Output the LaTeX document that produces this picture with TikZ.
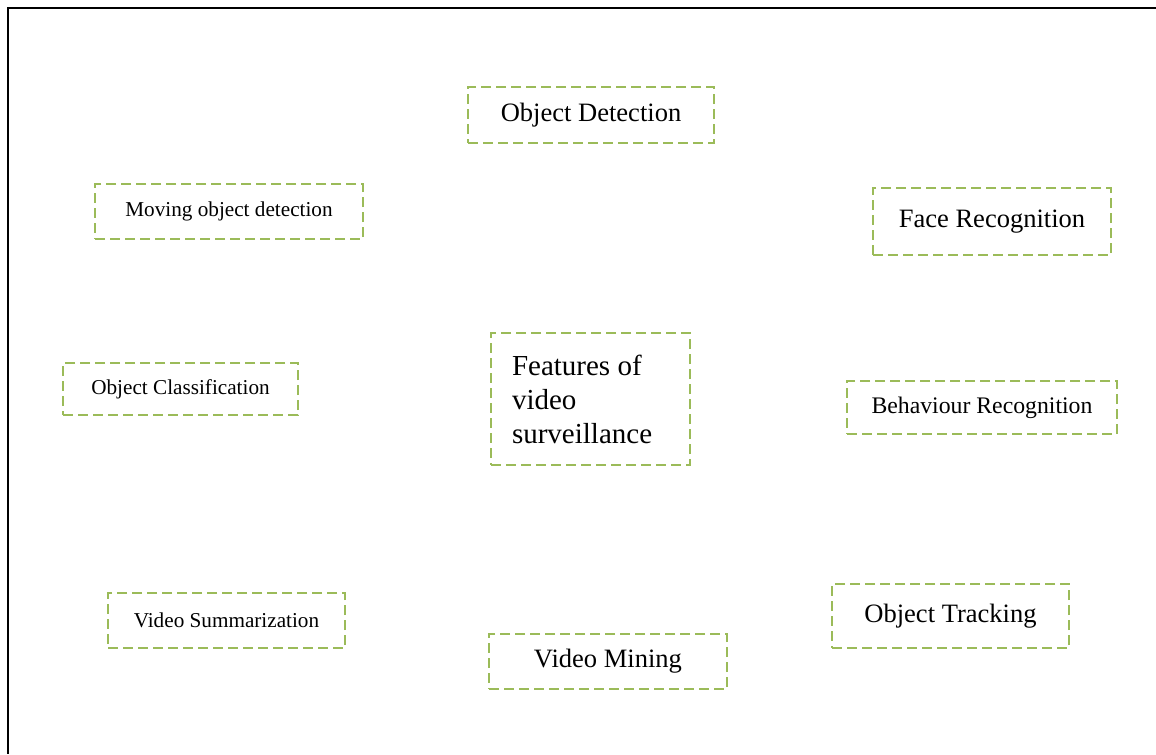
\documentclass[tikz,border=0pt]{standalone}
\usepackage{fontspec}
\setmainfont{Liberation Serif}
\definecolor{BoxGreen}{RGB}{155,187,89}
\begin{document}
\begin{tikzpicture}[x=0.75pt,y=-0.75pt,
    featbox/.style={draw=BoxGreen,line width=1.7pt,dash pattern=on 7.5pt off 3.75pt,
                    inner sep=0pt,align=center},
    boxsize/.style 2 args={minimum width=#1*0.75pt,minimum height=#2*0.75pt}]
  \useasboundingbox (0,0) rectangle (1156,754);
  % page frame
  \draw[line width=1.5pt] (1156,8) -- (8,8) -- (8,754);
  % feature boxes round the centre
  \foreach \n/\x/\y/\w/\h/\fs/\t in {
      detect/591/115/246/56/19.9/{Object Detection},
      moving/229/211.5/268/55/15.9/{Moving object detection},
      face/992/221.5/238/67/19.9/{Face Recognition},
      classif/180.5/389/235/52/15.9/{Object Classification},
      behav/982/407.5/270/53/17.8/{Behaviour Recognition},
      summ/226.5/620.5/237/55/15.9/{Video Summarization},
      track/950.5/616/237/64/19.9/{Object Tracking},
      mining/608/661.5/238/55/19.9/{Video Mining}}{
    \node[featbox,boxsize={\w}{\h},font=\fontsize{\fs}{\fs}\selectfont]
      (\n) at (\x,\y) {\t};
  }
  \node[featbox,boxsize={199}{132},align=flush left,text width=157*0.75pt,inner xsep=21*0.75pt,
        font=\fontsize{21.75}{25.5}\selectfont]
    (feat) at (590.5,399) {Features of\\video\\surveillance};
\end{tikzpicture}
\end{document}
